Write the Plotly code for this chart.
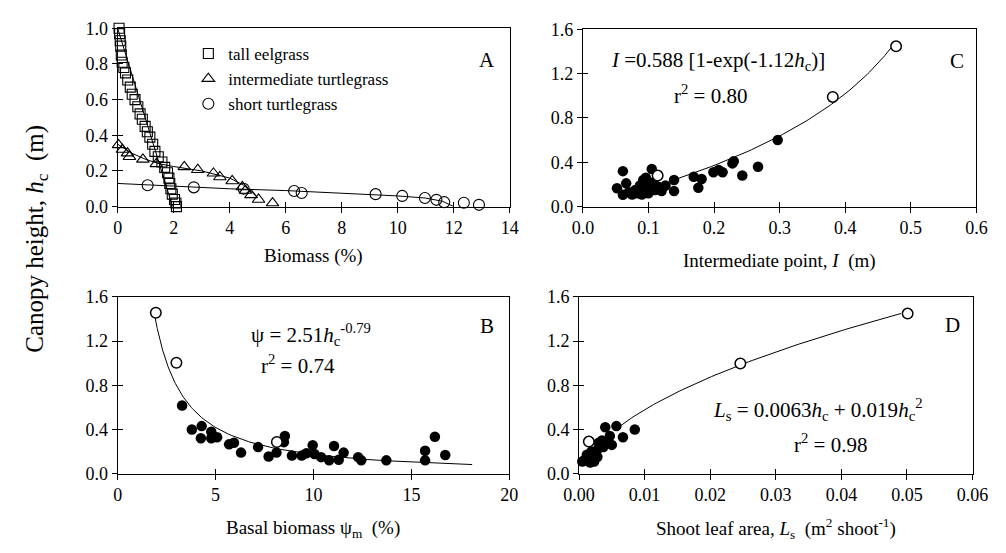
import numpy as np
import plotly.graph_objects as go

W, H = 1006, 553
FONT = "Liberation Serif"

# ---------------- Panel A: vertical biomass profiles ----------------
eel_biomass = [0.05, 0.07, 0.09, 0.11, 0.13, 0.16, 0.22, 0.28, 0.36, 0.45, 0.52, 0.62,
               0.72, 0.80, 0.88, 0.98, 1.06, 1.15, 1.25, 1.33, 1.45, 1.58, 1.68, 1.78,
               1.83, 1.86, 1.90, 1.95, 2.03, 2.08, 2.10]
eel_height = [1.00, 0.97, 0.93, 0.90, 0.85, 0.81, 0.78, 0.75, 0.71, 0.67, 0.63, 0.60,
              0.56, 0.52, 0.49, 0.45, 0.42, 0.39, 0.35, 0.31, 0.28, 0.25, 0.22, 0.19,
              0.16, 0.13, 0.10, 0.07, 0.04, 0.02, 0.00]
eel_fit_biomass = [0.0, 1.96]
eel_fit_height = [1.0, 0.0]

int_biomass = [0.03, 0.17, 0.35, 0.42, 0.90, 1.38, 2.38, 2.86, 3.42, 3.65, 4.09, 4.45,
               4.56, 4.76, 5.03, 5.53]
int_height = [0.346, 0.32, 0.30, 0.28, 0.265, 0.24, 0.223, 0.207, 0.187, 0.166, 0.144,
              0.11, 0.09, 0.066, 0.04, 0.02]
int_fit_biomass = [0.0, 0.5, 1.0, 1.5, 2.0, 3.0, 4.0, 4.5, 4.8, 5.0]
int_fit_height = [0.35, 0.30, 0.265, 0.24, 0.225, 0.20, 0.16, 0.12, 0.08, 0.05]

short_biomass = [1.07, 2.72, 4.50, 6.30, 6.57, 9.21, 10.16, 10.97, 11.38, 11.66, 12.36, 12.90]
short_height = [0.12, 0.108, 0.10, 0.088, 0.076, 0.07, 0.06, 0.048, 0.038, 0.025, 0.022, 0.01]
short_fit_biomass = [0.0, 2.0, 4.0, 6.0, 8.0, 10.0, 11.0, 11.6, 12.0]
short_fit_height = [0.13, 0.115, 0.10, 0.09, 0.075, 0.06, 0.048, 0.03, 0.0]

# ---------------- Panel C: intermediate point ----------------
c_open_I = [0.114, 0.381, 0.4775]
c_open_h = [0.28, 0.99, 1.446]
c_I = [0.052, 0.061, 0.061, 0.066, 0.070, 0.075, 0.080, 0.083, 0.087, 0.090, 0.092,
       0.094, 0.096, 0.098, 0.100, 0.102, 0.105, 0.108, 0.110, 0.115, 0.120, 0.126,
       0.139, 0.139, 0.169, 0.176, 0.181, 0.199, 0.207, 0.213, 0.228, 0.230, 0.243,
       0.267, 0.297]
c_h = [0.165, 0.32, 0.107, 0.21, 0.13, 0.11, 0.15, 0.12, 0.19, 0.11, 0.24,
       0.15, 0.26, 0.20, 0.12, 0.17, 0.34, 0.22, 0.15, 0.18, 0.14, 0.19,
       0.24, 0.14, 0.27, 0.17, 0.25, 0.31, 0.33, 0.31, 0.39, 0.41, 0.28,
       0.36, 0.60]
c_coef_a, c_coef_b = 0.588, 1.12
c_fit_h_range = (0.24, 1.44)

# ---------------- Panel B: basal biomass ----------------
b_open_psi = [1.95, 3.0, 8.13]
b_open_h = [1.457, 1.004, 0.286]
b_psi = [3.29, 3.79, 4.29, 4.25, 4.78, 4.78, 5.08, 5.69, 5.94, 6.30, 7.17, 7.71, 8.11,
         8.54, 8.49, 8.90, 9.40, 9.64, 9.96, 10.05, 10.39, 10.80, 11.05, 11.29, 11.54,
         12.28, 12.44, 13.72, 15.70, 15.70, 16.20, 16.73]
b_h = [0.616, 0.40, 0.43, 0.32, 0.38, 0.32, 0.33, 0.265, 0.28, 0.19, 0.24, 0.155, 0.19,
       0.34, 0.285, 0.163, 0.163, 0.184, 0.257, 0.178, 0.149, 0.12, 0.25, 0.125, 0.19,
       0.149, 0.12, 0.12, 0.207, 0.12, 0.333, 0.169]
b_coef_a, b_coef_b = 2.51, -0.79
b_fit_h_range = (0.082, 1.45)

# ---------------- Panel D: shoot leaf area ----------------
d_open_Ls = [0.0015, 0.0246, 0.0501]
d_open_h = [0.29, 0.997, 1.449]
d_Ls = [0.0085, 0.0057, 0.0040, 0.0067, 0.0047, 0.0035, 0.0050, 0.0037, 0.0030,
        0.0027, 0.0045, 0.0020, 0.0025, 0.0013, 0.0018, 0.0005, 0.0010, 0.0017,
        0.0022, 0.0028, 0.0012, 0.0019, 0.0015, 0.0008, 0.0023]
d_h = [0.40, 0.43, 0.42, 0.33, 0.34, 0.30, 0.26, 0.24, 0.28,
       0.21, 0.28, 0.18, 0.16, 0.14, 0.12, 0.11, 0.13, 0.10,
       0.13, 0.15, 0.17, 0.20, 0.155, 0.12, 0.11]
d_coef_a, d_coef_b = 0.0063, 0.019
d_fit_h_range = (0.40, 1.45)


def px_x(p):
    return p / W


def px_y(p):
    return 1 - p / H


fig = go.Figure()

LINE = dict(color="black", width=1)
FILLED = dict(symbol="circle", size=10.5, color="black", line=dict(width=0))
HOLLOW = dict(symbol="circle", size=10.5, color="white", line=dict(color="black", width=1.5))


def add_line(x, y, ax):
    fig.add_trace(go.Scatter(x=x, y=y, mode="lines", line=LINE, showlegend=False,
                             hoverinfo="skip", xaxis="x" + ax, yaxis="y" + ax,
                             cliponaxis=False))


def add_pts(x, y, ax, marker, name=None):
    fig.add_trace(go.Scatter(x=x, y=y, mode="markers", marker=marker, name=name,
                             showlegend=name is not None, xaxis="x" + ax, yaxis="y" + ax,
                             cliponaxis=False))


# Panel A (axes x/y)
add_line(eel_fit_biomass, eel_fit_height, "")
add_line(int_fit_biomass, int_fit_height, "")
add_line(short_fit_biomass, short_fit_height, "")
add_pts(eel_biomass, eel_height, "",
        dict(symbol="square-open", size=10, color="black", line=dict(width=1.1)),
        "tall eelgrass")
add_pts(int_biomass, int_height, "",
        dict(symbol="triangle-up-open", size=11, color="black", line=dict(width=1.1)),
        "intermediate turtlegrass")
add_pts(short_biomass, short_height, "",
        dict(symbol="circle-open", size=11, color="black", line=dict(width=1.1)),
        "short turtlegrass")

# Panel C (x2/y2)
hc = np.linspace(*c_fit_h_range, 80)
add_line(c_coef_a * (1 - np.exp(-c_coef_b * hc)), hc, "2")
add_pts(c_I, c_h, "2", FILLED)
add_pts(c_open_I, c_open_h, "2", HOLLOW)

# Panel B (x3/y3)
hb = np.linspace(*b_fit_h_range, 120)
add_line(b_coef_a * hb ** b_coef_b, hb, "3")
add_pts(b_psi, b_h, "3", FILLED)
add_pts(b_open_psi, b_open_h, "3", HOLLOW)

# Panel D (x4/y4)
hd = np.linspace(*d_fit_h_range, 80)
add_line(d_coef_a * hd + d_coef_b * hd ** 2, hd, "4")
add_pts(d_Ls, d_h, "4", FILLED)
add_pts(d_open_Ls, d_open_h, "4", HOLLOW)

TICKFONT = dict(family=FONT, size=18, color="black")

panels = {
    # key: (x-domain px, y-domain px, x range, x dtick, x format, y range, y dtick)
    "": ((105, 510), (19, 204), [0, 14], 2, "d", [0, 1.0], 0.2),
    "2": ((585.5, 992), (20, 204), [0, 0.6], 0.1, ".1f", [0, 1.6], 0.4),
    "3": ((105, 509.5), (297.7, 481), [0, 20], 5, "d", [0, 1.6], 0.4),
    "4": ((581.5, 988), (297.7, 481), [0, 0.06], 0.01, ".2f", [0, 1.6], 0.4),
}
overlay_ids = {"": "5", "2": "6", "3": "7", "4": "8"}

layout_axes = {}
for key, (xd, yd, xr, xdt, xf, yr, ydt) in panels.items():
    xdom = [px_x(xd[0]), px_x(xd[1])]
    ydom = [px_y(yd[1]), px_y(yd[0])]
    ax_ref = "x" + key
    ay_ref = "y" + key
    layout_axes["xaxis" + key] = dict(domain=xdom, range=xr, dtick=xdt, tick0=0, tickformat=xf,
                                      anchor=ay_ref, showline=True, linecolor="black",
                                      linewidth=1, mirror=True, ticks="outside", ticklen=5,
                                      tickcolor="black", tickwidth=1, showgrid=False,
                                      zeroline=False, tickfont=TICKFONT, fixedrange=True)
    layout_axes["yaxis" + key] = dict(domain=ydom, range=yr, dtick=ydt, tick0=0, tickformat=".1f",
                                      anchor=ax_ref, showline=True, linecolor="black",
                                      linewidth=1, mirror=True, ticks="outside", ticklen=5,
                                      tickcolor="black", tickwidth=1, showgrid=False,
                                      zeroline=False, tickfont=TICKFONT, fixedrange=True)
    # companion axes carrying the inner half of each tick mark
    o = overlay_ids[key]
    layout_axes["xaxis" + o] = dict(overlaying=ax_ref, anchor="y" + o, range=xr, dtick=xdt,
                                    tick0=0, ticks="inside", ticklen=5, tickcolor="black",
                                    tickwidth=1, showticklabels=False, showline=False,
                                    showgrid=False, zeroline=False, fixedrange=True)
    layout_axes["yaxis" + o] = dict(overlaying=ay_ref, anchor="x" + o, range=yr, dtick=ydt,
                                    tick0=0, ticks="inside", ticklen=5, tickcolor="black",
                                    tickwidth=1, showticklabels=False, showline=False,
                                    showgrid=False, zeroline=False, fixedrange=True)
    fig.add_trace(go.Scatter(x=[None], y=[None], xaxis="x" + o, yaxis="y" + o,
                             showlegend=False, hoverinfo="skip"))


def label(text, x, y, size=18, angle=0):
    return dict(text=text, x=px_x(x), y=px_y(y), xref="paper", yref="paper",
                showarrow=False, xanchor="center", yanchor="middle", textangle=angle,
                font=dict(family=FONT, size=size, color="black"))


annotations = [
    # axis titles
    label("Biomass (%)", 307, 255, 19),
    label("Intermediate point, <i>I</i>  (m)", 789, 260, 19),
    label("Basal biomass ψ<sub>m</sub>  (%)", 307, 538, 19),
    label("Shoot leaf area, <i>L</i><sub>s</sub>  (m<sup>2</sup> shoot<sup>-1</sup>)", 785, 538, 19),
    label("Canopy height, <i>h</i><sub>c</sub>  (m)", 21, 237, 25, -90),
    # panel letters
    label("A", 486, 52, 21),
    label("C", 972, 53, 21),
    label("B", 486, 328, 21),
    label("D", 967, 327, 21),
    # fitted equations
    label("<i>I</i> =0.588 [1-exp(-1.12<i>h</i><sub>c</sub>)]", 725, 53, 21),
    label("r<sup>2</sup> = 0.80", 717, 88, 21),
    label("ψ = 2.51<i>h</i><sub>c</sub><sup>-0.79</sup>", 305, 337, 21),
    label("r<sup>2</sup> = 0.74", 291, 368, 21),
    label("<i>L</i><sub>s</sub> = 0.0063<i>h</i><sub>c</sub> + 0.019<i>h</i><sub>c</sub><sup>2</sup>",
          828, 415, 21),
    label("r<sup>2</sup> = 0.98", 841, 450, 21),
]

fig.update_layout(
    width=W, height=H,
    margin=dict(l=0, r=0, t=0, b=0),
    paper_bgcolor="white", plot_bgcolor="white",
    font=dict(family=FONT, color="black"),
    showlegend=True,
    legend=dict(x=px_x(178), y=px_y(27), xanchor="left", yanchor="top",
                bgcolor="rgba(0,0,0,0)", borderwidth=0, tracegroupgap=0,
                font=dict(family=FONT, size=17, color="black")),
    annotations=annotations,
    **layout_axes,
)

fig.write_html("out.html")
